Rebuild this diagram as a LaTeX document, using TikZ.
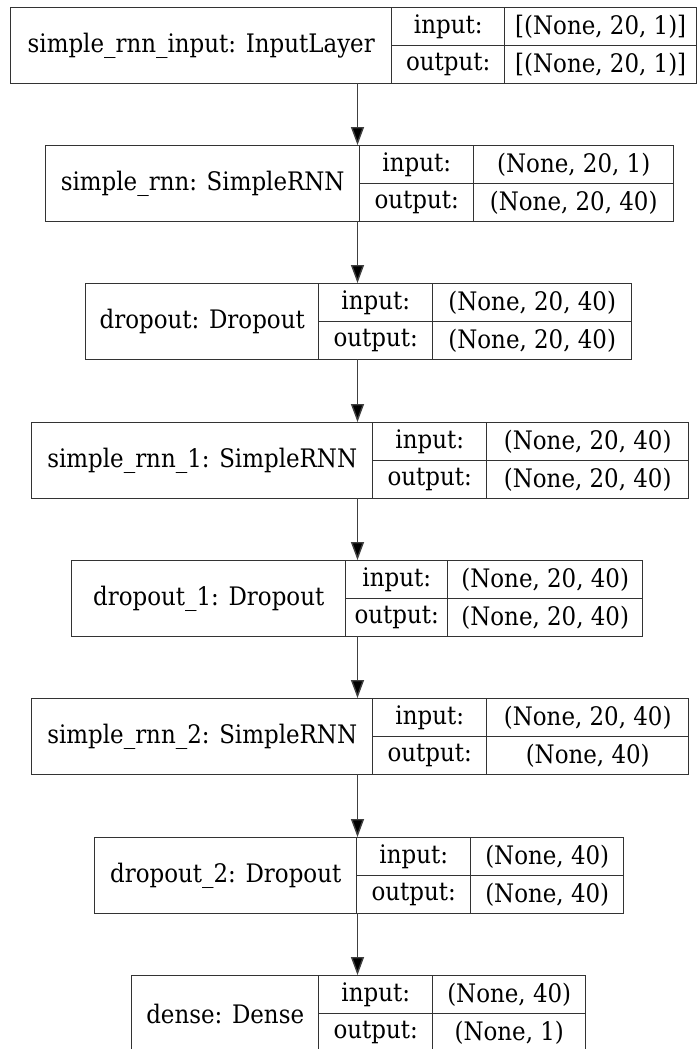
\documentclass[tikz,border=0pt]{standalone}
\usepackage{fontspec}
\setmainfont{DejaVu Serif Condensed}
\usetikzlibrary{arrows.meta}
\tikzset{
  cellbox/.style={draw=black!80, line width=1.4pt, inner sep=0pt, minimum height=38pt, anchor=north west, font=\fontsize{25.5}{30}\selectfont},
  namebox/.style={cellbox, minimum height=76pt},
  arr/.style={draw=black!75, line width=1.4pt, -{Triangle[width=13pt,length=18pt,fill=black]}}
}
\newcommand\mylayer[9]{%
  \node[namebox, minimum width={(#4-#3)*1pt}] (#1-name) at (#3,#2) {#7};
  \node[cellbox, minimum width={(#5-#4)*1pt}] (#1-ik) at (#4,#2) {input:};
  \node[cellbox, minimum width={(#5-#4)*1pt}] (#1-ok) at (#4,#2+38) {output:};
  \node[cellbox, minimum width={(#6-#5)*1pt}] (#1-iv) at (#5,#2) {#8};
  \node[cellbox, minimum width={(#6-#5)*1pt}] (#1-ov) at (#5,#2+38) {#9};
  \coordinate (#1-top) at (357.5,#2);
  \coordinate (#1-bot) at (357.5,#2+76);
}
\begin{document}
\begin{tikzpicture}[x=1pt,y=-1pt]
\useasboundingbox[fill=white] (0,0) rectangle (697,1049);
\mylayer{L1}{7}{10}{391}{504}{696}{simple\_rnn\_input: InputLayer}{[(None, 20, 1)]}{[(None, 20, 1)]}
\mylayer{L2}{145}{45}{359}{473}{673}{simple\_rnn: SimpleRNN}{(None, 20, 1)}{(None, 20, 40)}
\mylayer{L3}{283}{85}{318}{432}{631}{dropout: Dropout}{(None, 20, 40)}{(None, 20, 40)}
\mylayer{L4}{422}{31}{372}{486}{688}{simple\_rnn\_1: SimpleRNN}{(None, 20, 40)}{(None, 20, 40)}
\mylayer{L5}{560}{71}{345}{447}{642}{dropout\_1: Dropout}{(None, 20, 40)}{(None, 20, 40)}
\mylayer{L6}{698}{31}{372}{486}{688}{simple\_rnn\_2: SimpleRNN}{(None, 20, 40)}{(None, 40)}
\mylayer{L7}{837}{94}{356}{470}{623}{dropout\_2: Dropout}{(None, 40)}{(None, 40)}
\mylayer{L8}{975}{131}{318}{432}{585}{dense: Dense}{(None, 40)}{(None, 1)}
\draw[arr] (L1-bot) -- (L2-top);
\draw[arr] (L2-bot) -- (L3-top);
\draw[arr] (L3-bot) -- (L4-top);
\draw[arr] (L4-bot) -- (L5-top);
\draw[arr] (L5-bot) -- (L6-top);
\draw[arr] (L6-bot) -- (L7-top);
\draw[arr] (L7-bot) -- (L8-top);
\end{tikzpicture}
\end{document}
